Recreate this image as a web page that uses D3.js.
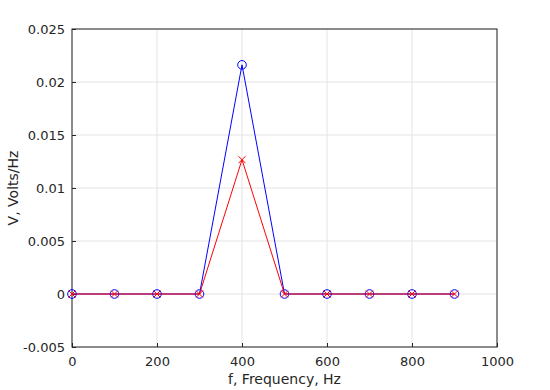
<!DOCTYPE html>
<html>
<head>
<meta charset="utf-8">
<script src="https://cdn.jsdelivr.net/npm/d3@7"></script>
<style>
  body { margin: 0; background: #fff; }
  text { font-family: "DejaVu Sans", sans-serif; fill: #262626; }
</style>
</head>
<body>
<svg id="chart" width="550" height="390"></svg>
<script>
const freqs = [0, 100, 200, 300, 400, 500, 600, 700, 800, 900];
const blue_vals = [0, 0, 0, 0, 0.02162, 0, 0, 0, 0, 0];
const red_vals = [0, 0, 0, 0, 0.01267, 0, 0, 0, 0, 0];
const x_ticks = [0, 200, 400, 600, 800, 1000];
const y_ticks = [-0.005, 0, 0.005, 0.01, 0.015, 0.02, 0.025];

const plot_left = 72, plot_right = 497, plot_top = 29, plot_bottom = 347;
const svg = d3.select('#chart');

const x = d3.scaleLinear().domain([0, 1000]).range([plot_left, plot_right]);
const y = d3.scaleLinear().domain([-0.005, 0.025]).range([plot_bottom, plot_top]);

// grid
svg.append('g')
  .selectAll('line')
  .data(x_ticks)
  .enter()
  .append('line')
  .attr('x1', d => x(d)).attr('x2', d => x(d))
  .attr('y1', plot_top).attr('y2', plot_bottom)
  .attr('stroke', '#e3e3e3').attr('stroke-width', 1);
svg.append('g')
  .selectAll('line')
  .data(y_ticks)
  .enter()
  .append('line')
  .attr('x1', plot_left).attr('x2', plot_right)
  .attr('y1', d => y(d)).attr('y2', d => y(d))
  .attr('stroke', '#e3e3e3').attr('stroke-width', 1);

// box
svg.append('rect')
  .attr('x', plot_left).attr('y', plot_top)
  .attr('width', plot_right - plot_left).attr('height', plot_bottom - plot_top)
  .attr('fill', 'none').attr('stroke', '#262626').attr('stroke-width', 1);

// axes
const fmt = d => d === 0 ? '0' : String(+d.toFixed(3));
const x_axis = svg.append('g')
  .attr('transform', `translate(0,${plot_bottom})`)
  .call(d3.axisBottom(x).tickValues(x_ticks).tickSize(-4).tickPadding(10).tickFormat(fmt));
const y_axis = svg.append('g')
  .attr('transform', `translate(${plot_left},0)`)
  .call(d3.axisLeft(y).tickValues(y_ticks).tickSize(-4).tickPadding(7).tickFormat(fmt));
[x_axis, y_axis].forEach(a => {
  a.select('.domain').remove();
  a.selectAll('line').attr('stroke', '#262626');
  a.selectAll('text').attr('font-size', 13).style('font-family', '"DejaVu Sans", sans-serif').attr('fill', '#262626');
});

// labels
svg.append('text')
  .attr('x', (plot_left + plot_right) / 2).attr('y', 384)
  .attr('text-anchor', 'middle').attr('font-size', 14)
  .text('f, Frequency, Hz');
svg.append('text')
  .attr('transform', `translate(18,${(plot_top + plot_bottom) / 2}) rotate(-90)`)
  .attr('text-anchor', 'middle').attr('font-size', 14)
  .text('V, Volts/Hz');

// series
const line = d3.line().x(d => x(d[0])).y(d => y(d[1]));
const blue_pts = freqs.map((f, i) => [f, blue_vals[i]]);
const red_pts = freqs.map((f, i) => [f, red_vals[i]]);

svg.append('path').datum(blue_pts)
  .attr('d', line).attr('fill', 'none').attr('stroke', '#0000ff').attr('stroke-width', 1);
svg.append('g').selectAll('circle')
  .data(blue_pts).enter().append('circle')
  .attr('cx', d => x(d[0])).attr('cy', d => y(d[1])).attr('r', 4.3)
  .attr('fill', 'none').attr('stroke', '#0000ff').attr('stroke-width', 1);

svg.append('path').datum(red_pts)
  .attr('d', line).attr('fill', 'none').attr('stroke', '#ff0000').attr('stroke-width', 1);
const s = 3.5;
svg.append('g').selectAll('path')
  .data(red_pts).enter().append('path')
  .attr('d', d => {
    const cx = x(d[0]), cy = y(d[1]);
    return `M${cx - s},${cy - s}L${cx + s},${cy + s}M${cx - s},${cy + s}L${cx + s},${cy - s}`;
  })
  .attr('fill', 'none').attr('stroke', '#ff0000').attr('stroke-width', 1);
</script>
</body>
</html>
